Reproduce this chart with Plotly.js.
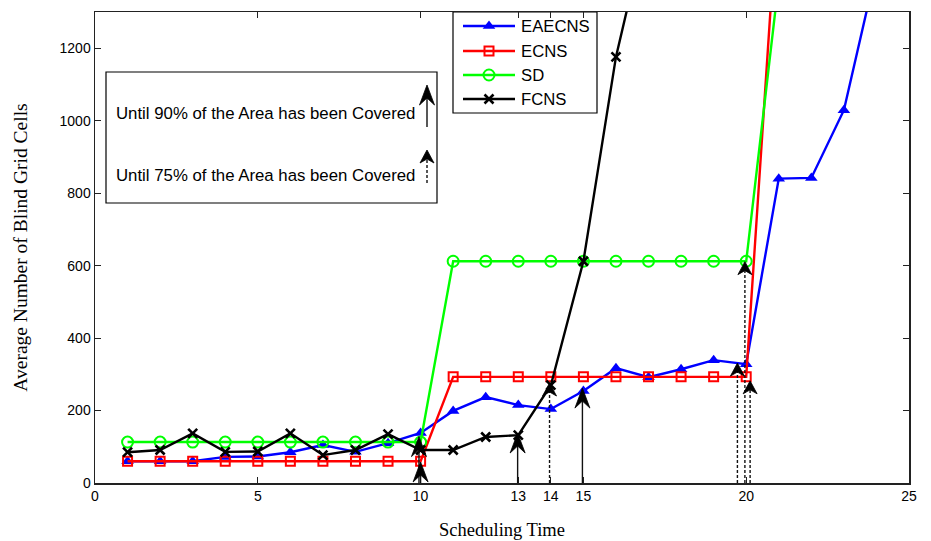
<!DOCTYPE html>
<html>
<head>
<meta charset="utf-8">
<script src="https://cdn.plot.ly/plotly-3.0.1.min.js"></script>
<style>html,body{margin:0;padding:0;background:#fff;}#chart{width:931px;height:541px;}</style>
</head>
<body>
<div id="chart"></div>
<script>
// ---- data ----
const timeEA = [1,2,3,4,5,6,7,8,9,10,11,12,13,14,15,16,17,18,19,20,21,22,23,24];
const eaecns = [60,60,60,72,73,85,105,86,110,138,199,237,215,204,254,317,292,314,339,328,840,842,1029,1420];
const timeEC = [1,2,3,4,5,6,7,8,9,10,11,12,13,14,15,16,17,18,19,20,21];
const ecns   = [60,60,60,60,60,60,60,60,60,60,293,293,293,293,293,293,293,293,293,293,1650];
const timeSD = [1,2,3,4,5,6,7,8,9,10,11,12,13,14,15,16,17,18,19,20,21];
const sd     = [113,113,113,113,113,113,113,113,113,113,612,612,612,612,612,612,612,612,612,612,1385];
const timeFC = [1,2,3,4,5,6,7,8,9,10,11,12,13,14,15,16,17];
const fcns   = [85,91,137,86,87,137,77,91,135,91,91,127,132,270,612,1176,1560];

// arrows: 90% coverage (solid) and 75% coverage (dashed)
const arrow90X = [9.95, 10.0, 12.98, 14.97];
const arrow90Y = [128, 58, 138, 262];
const arrow75X = [13.96, 19.73, 19.96, 20.12];
const arrow75Y = [276, 331, 611, 282];

const xTicks = [0,5,10,13,14,15,20,25];
const yTicks = [0,200,400,600,800,1000,1200];
const seriesNames = ['EAECNS','ECNS','SD','FCNS'];
const boxTexts = ['Until 90% of the Area has been Covered','Until 75% of the Area has been Covered'];

// ---- geometry / styles ----
const W = 931, H = 541, M = {l: 95, r: 22, t: 12, b: 58};
const plotW = W - M.l - M.r, plotH = H - M.t - M.b;
const xRange = [0, 25], yRange = [0, 1300];
const pxX = plotW / (xRange[1] - xRange[0]);   // px per x unit
const pxY = plotH / (yRange[1] - yRange[0]);   // px per y unit
// overlay axes (x2/y2) measured in page pixels
const ovX = [M.l, W - M.r], ovY = [H - M.b, M.t];

const styles = [
  {line: {color: '#0000ff', width: 2.4}, marker: {symbol: 'triangle-up', size: 11, color: '#0000ff'}},
  {line: {color: '#ff0000', width: 2.4}, marker: {symbol: 'square-open', size: 9, color: '#ff0000', line: {width: 2, color: '#ff0000'}}},
  {line: {color: '#00ff00', width: 2.4}, marker: {symbol: 'circle-open', size: 11, color: '#00ff00', line: {width: 2, color: '#00ff00'}}},
  {line: {color: '#000000', width: 2.4}, marker: {symbol: 'x-thin', size: 9, color: '#000000', line: {width: 2.6, color: '#000000'}}}
];
const xs = [timeEA, timeEC, timeSD, timeFC];
const ys = [eaecns, ecns, sd, fcns];

const traces = [];
for (let i = 0; i < 4; i++) {
  traces.push({x: xs[i], y: ys[i], name: seriesNames[i], mode: 'lines+markers',
    line: styles[i].line, marker: styles[i].marker, showlegend: false});
}

// custom legend in overlay pixel space
const leg = {x0: 453, x1: 597, y0: 12, y1: 113, rows: [26, 51, 75, 99], lx0: 463, lx1: 515, tx: 519};
const shapes = [];
const annotations = [];
for (let i = 0; i < 4; i++) {
  const ry = leg.rows[i];
  traces.push({x: [leg.lx0, leg.lx1], y: [ry, ry], xaxis: 'x2', yaxis: 'y2', mode: 'lines',
    line: styles[i].line, showlegend: false, hoverinfo: 'skip'});
  traces.push({x: [(leg.lx0 + leg.lx1) / 2], y: [ry], xaxis: 'x2', yaxis: 'y2', mode: 'markers',
    marker: styles[i].marker, showlegend: false, hoverinfo: 'skip', cliponaxis: false});
  annotations.push({xref: 'x2', yref: 'y2', x: leg.tx, y: ry, xanchor: 'left', yanchor: 'middle',
    text: seriesNames[i], showarrow: false, font: {family: 'Liberation Sans, Arial', size: 16.7, color: '#000'}});
}
shapes.push({type: 'rect', xref: 'x2', yref: 'y2', x0: leg.x0, x1: leg.x1, y0: leg.y0, y1: leg.y1,
  line: {color: '#000', width: 1.2}, layer: 'below'});

// stealth arrowhead path, given tip in pixel-offset space
function headPath(cx, cy, toX, toY, dashed) {
  // pixel offsets (y positive = downwards on screen)
  const pts = dashed ? [[0,0],[-7,13],[0,9],[7,13]] : [[0,0],[-7.5,20],[0,13],[7.5,20]];
  return 'M' + pts.map(p => toX(cx, p[0]) + ',' + toY(cy, p[1])).join('L') + 'Z';
}
const dataX = (x, dpx) => x + dpx / pxX;
const dataY = (y, dpx) => y - dpx / pxY;
const ovXf = (x, dpx) => x + dpx;
const ovYf = (y, dpx) => y + dpx;

function addArrow(x, y, y0, dashed, xref, yref, fx, fy) {
  const shaftTop = fy(y, dashed ? 9 : 12);
  shapes.push({type: 'line', xref: xref, yref: yref, x0: x, x1: x, y0: y0, y1: shaftTop,
    line: {color: '#111', width: 1.4, dash: dashed ? '3px,2px' : 'solid'}});
  shapes.push({type: 'path', xref: xref, yref: yref, path: headPath(x, y, fx, fy, dashed),
    fillcolor: '#000', line: {color: '#000', width: 0.8}});
}
arrow90X.forEach((x, i) => addArrow(x, arrow90Y[i], 0, false, 'x', 'y', dataX, dataY));
arrow75X.forEach((x, i) => addArrow(x, arrow75Y[i], 0, true, 'x', 'y', dataX, dataY));

// explanation box (overlay pixel space)
const box = {x0: 106, x1: 437, y0: 72, y1: 203, tx: 114, rows: [113, 175], ax: 427};
shapes.push({type: 'rect', xref: 'x2', yref: 'y2', x0: box.x0, x1: box.x1, y0: box.y0, y1: box.y1,
  line: {color: '#000', width: 1.2}, layer: 'below'});
boxTexts.forEach((t, i) => annotations.push({xref: 'x2', yref: 'y2', x: box.tx, y: box.rows[i],
  xanchor: 'left', yanchor: 'middle', text: t, showarrow: false,
  font: {family: 'Liberation Sans, Arial', size: 16.8, color: '#000'}}));
addArrow(box.ax, 85, 127, false, 'x2', 'y2', ovXf, ovYf);
addArrow(box.ax, 150, 183, true, 'x2', 'y2', ovXf, ovYf);

const axisFont = {family: 'Liberation Sans, Arial', size: 14, color: '#000'};
const layout = {
  width: W, height: H,
  margin: M,
  paper_bgcolor: '#fff', plot_bgcolor: '#fff',
  showlegend: false,
  xaxis: {range: xRange, tickvals: xTicks, ticks: 'inside', ticklen: 6, tickcolor: '#222',
    showline: true, linecolor: '#222', linewidth: 1.5, mirror: 'ticks', showgrid: false, zeroline: false,
    tickfont: axisFont,
    title: {text: 'Scheduling Time', font: {family: 'Liberation Serif, Times New Roman', size: 18.5, color: '#000'}, standoff: 20}},
  yaxis: {range: yRange, tickvals: yTicks, ticks: 'inside', ticklen: 6, tickcolor: '#222',
    showline: true, linecolor: '#222', linewidth: 1.5, mirror: 'ticks', showgrid: false, zeroline: false,
    tickfont: axisFont,
    title: {text: 'Average Number of Blind Grid Cells', font: {family: 'Liberation Serif, Times New Roman', size: 19.5, color: '#000'}, standoff: 26}},
  xaxis2: {overlaying: 'x', range: ovX, visible: false, fixedrange: true},
  yaxis2: {overlaying: 'y', range: ovY, visible: false, fixedrange: true},
  shapes: shapes,
  annotations: annotations
};

Plotly.newPlot('chart', traces, layout, {displayModeBar: false, staticPlot: true});
</script>
</body>
</html>
